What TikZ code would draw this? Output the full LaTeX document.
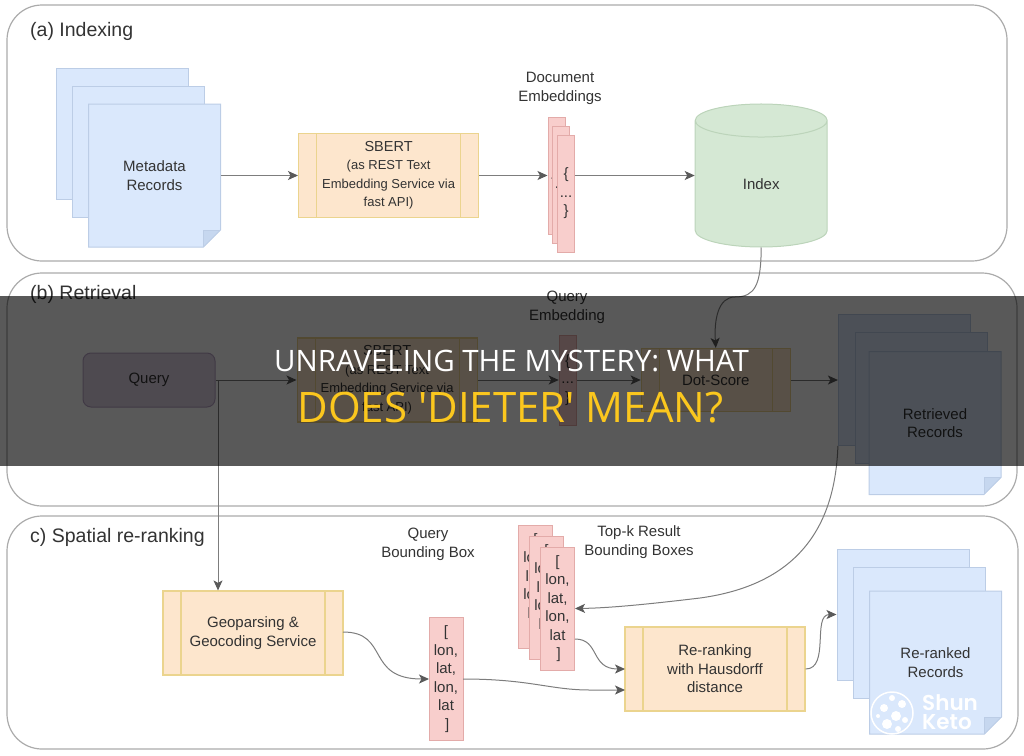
\documentclass[tikz,border=0pt]{standalone}
\usepackage{fontspec}
\setmainfont{Liberation Sans}
\newfontfamily\bandfont{Open Sans}
\newfontfamily\markfont{Poppins}[FontFace={sb}{n}{Font=* SemiBold}]
\usetikzlibrary{positioning,arrows.meta,shapes.geometric,shapes.misc}

\definecolor{panelgray}{HTML}{ABABAB}
\definecolor{linegray}{HTML}{7D7D7D}
\definecolor{tipgray}{HTML}{5A5A5A}
\definecolor{docfill}{HTML}{DAE8FC}
\definecolor{docdraw}{HTML}{BCCDE6}
\definecolor{docfold}{HTML}{C6D7EF}
\definecolor{procfill}{HTML}{FDE6CD}
\definecolor{procdraw}{HTML}{EBD48E}
\definecolor{embfill}{HTML}{F8CECC}
\definecolor{embdraw}{HTML}{E3ABA9}
\definecolor{dbfill}{HTML}{D5E8D4}
\definecolor{dbdraw}{HTML}{BCD4BA}
\definecolor{queryfill}{HTML}{E1D5E7}
\definecolor{querydraw}{HTML}{B9A6C6}
\definecolor{headyellow}{HTML}{FBC71E}

\begin{document}
\begin{tikzpicture}[
    x=1pt, y=-1pt,
    every node/.style={text=black!80, font=\fontsize{15}{18.5}\selectfont, align=center, inner sep=0pt},
    panelnode/.style={rectangle, draw=panelgray, line width=1.2pt, rounded corners=35pt},
    headnode/.style={anchor=west, font=\fontsize{19.5}{22}\selectfont},
    backnode/.style={rectangle, draw=docdraw, fill=docfill, line width=1pt, minimum width=132pt, minimum height=131pt},
    docnode/.style={chamfered rectangle, chamfered rectangle corners=south east, chamfered rectangle xsep=8.5pt,
        chamfered rectangle ysep=8.5pt, draw=docdraw, fill=docfill, line width=1pt, minimum width=132pt, minimum height=143pt,
        path picture={\fill[docfold] ([xshift=-17pt]path picture bounding box.south east)
            -- ([xshift=-17pt,yshift=17pt]path picture bounding box.south east)
            -- ([yshift=17pt]path picture bounding box.south east) -- cycle;
            \draw[docdraw, line width=1pt] ([xshift=-17pt]path picture bounding box.south east)
            -- ([xshift=-17pt,yshift=17pt]path picture bounding box.south east)
            -- ([yshift=17pt]path picture bounding box.south east);}},
    procnode/.style={rectangle, draw=procdraw, fill=procfill, line width=1.2pt, minimum width=#1, minimum height=84pt,
        path picture={\draw[procdraw, line width=1.2pt]
            ([xshift=18pt]path picture bounding box.north west) -- ([xshift=18pt]path picture bounding box.south west)
            ([xshift=-18pt]path picture bounding box.north east) -- ([xshift=-18pt]path picture bounding box.south east);}},
    procnode/.default=180pt,
    sbertnode/.style={procnode, font=\fontsize{13}{18.5}\selectfont},
    embnode/.style={rectangle, draw=embdraw, fill=embfill, line width=1pt, minimum width=17pt, minimum height=117pt},
    boxnode/.style={rectangle, draw=embdraw, fill=embfill, line width=1pt, minimum width=34pt, minimum height=123pt},
    flowline/.style={->, >={Stealth[length=10pt,width=9pt,inset=2.5pt,color=tipgray]}, draw=linegray, line width=1pt}
    ]
        \useasboundingbox (0,0) rectangle (1024,755);

        %Group panels
        \node[panelnode, minimum width=1000pt, minimum height=256pt] (panelA) at (507,133) {};
        \node[panelnode, minimum width=1010pt, minimum height=233pt] (panelB) at (512,389.5) {};
        \node[panelnode, minimum width=1011pt, minimum height=233pt] (panelC) at (512.5,632.5) {};
        \node[headnode] (headA) at (30,31) {(a) Indexing};
        \node[headnode] (headB) at (30,294) {(b) Retrieval};
        \node[headnode] (headC) at (30,537) {c) Spatial re-ranking};

        %Indexing row
        \node[backnode] (metaA) at (122,133.5) {};
        \node[backnode, xshift=16pt, yshift=-18pt] (metaB) at (metaA) {};
        \node[docnode] (metaC) at (154.5,175.5) {Metadata\\Records};
        \node[sbertnode]
            (sbertA) [right=77pt of metaC] {\fontsize{14.5}{18.5}\selectfont SBERT\\(as REST Text\\Embedding Service via\\fast API)};
        \node[embnode] (embA) at (556.5,175.5) {\{\\...\\\}};
        \node[embnode, xshift=4.5pt, yshift=-9pt] (embB) at (embA) {\{\\...\\\}};
        \node[embnode, xshift=9.5pt, yshift=-18pt] (embC) at (embA) {\{\\...\\\}};
        \node (embLabel) at (560,88.5) {Document\\Embeddings};
        \node[cylinder, shape border rotate=90, aspect=0.9, draw=dbdraw, fill=dbfill, line width=1pt,
            minimum width=132pt, minimum height=143pt, yshift=-8.5pt]
            (index) [right=215.5pt of sbertA] {\raisebox{-4pt}{Index}};

        %Retrieval row
        \node[rectangle, rounded corners=8pt, draw=querydraw, fill=queryfill, line width=1pt,
            minimum width=132pt, minimum height=54pt] (query) at (149,380) {Query};
        \node[sbertnode]
            (sbertB) [right=81pt of query] {\fontsize{14.5}{18.5}\selectfont SBERT\\(as REST Text\\Embedding Service via\\fast API)};
        \node[embnode, minimum height=90pt]
            (embQ) [right=81pt of sbertB] {\{\\...\\\}};
        \node (embQLabel) at (567,307.5) {Query\\Embedding};
        \node[procnode=149pt, minimum height=63pt]
            (dot) [right=64pt of embQ] {Dot-Score};
        \node[backnode]
            (retrA) [right=47pt of dot] {};
        \node[backnode, xshift=17pt, yshift=-18pt] (retrB) at (retrA) {};
        \node[docnode] (retrC) at (935,423) {Retrieved\\Records};

        %Re-ranking row
        \node[procnode] (geo) at (253,633) {Geoparsing \&\\Geocoding Service};
        \node[boxnode] (boxQ) at (446,679) {[\\lon,\\lat,\\lon,\\lat\\\,]};
        \node (boxQLabel) at (428,544.5) {Query\\Bounding Box};
        \node[boxnode] (boxA) at (535.5,586.5) {[\\lon,\\lat,\\lon,\\lat\\\,]};
        \node[boxnode, xshift=11pt, yshift=-11pt] (boxB) at (boxA) {[\\lon,\\lat,\\lon,\\lat\\\,]};
        \node[boxnode, xshift=22pt, yshift=-22pt] (boxC) at (boxA) {[\\lon,\\lat,\\lon,\\lat\\\,]};
        \node (boxLabel) at (639,542) {Top-k Result\\Bounding Boxes};
        \node[procnode] (rerank) at (715,669) {Re-ranking\\with Hausdorff\\distance};
        \node[backnode] (rankA) at (903,614.5) {};
        \node[backnode, xshift=16.5pt, yshift=-18pt] (rankB) at (rankA) {};
        \node[docnode] (rankC) at (935.5,662.5) {Re-ranked\\Records};

        %Lines
        \draw[flowline] (metaC.east) -- (sbertA.west);
        \draw[flowline] (sbertA.east) -- (embA.west);
        \draw[flowline] (embC.east |- sbertA.east) -- (index.west |- sbertA.east);
        \draw[flowline] (query.east) -- (sbertB.west);
        \draw[flowline] (sbertB.east) -- (embQ.west);
        \draw[flowline] (embQ.east) -- (dot.west);
        \draw[flowline] (dot.east) -- (retrA.west);
        \coordinate (split) at (218,380);
        \draw[flowline] (split) -- (split |- geo.north);
        \draw[flowline] (index.south)
            .. controls (761,285) and (755,297) .. (735,297)
            .. controls (718,297) and (714,320) .. (dot.north);
        \draw[flowline] (retrA.south west)
            .. controls (835,530) and (795,585) .. (700,598)
            .. controls (650,604) and (610,608) .. (boxC.east);
        \coordinate (boxCout) at (575,639);
        \coordinate (rerankInA) at (625,669);
        \coordinate (rerankInB) at (625,690);
        \coordinate (boxQout) at (463,679);
        \coordinate (boxQin) at (429,679);
        \coordinate (geoOut) at (343,632);
        \draw[flowline] (boxCout) .. controls (600,639) and (590,669) .. (rerankInA);
        \draw[flowline] (boxQout) .. controls (530,679) and (550,690) .. (590,690) -- (rerankInB);
        \draw[flowline] (geoOut) .. controls (390,632) and (365,679) .. (boxQin);
        \draw[flowline] (rerank.east) .. controls (830,669) and (812,614.5) .. (rankA.west);

        %Banner over the figure
        \fill[black, opacity=.65] (0,296) rectangle (1024,466);
        \node[text=white, font=\bandfont\fontsize{29.5}{32}\selectfont] (bannerA) at (511.5,361) {UNRAVELING THE MYSTERY: WHAT};
        \node[text=headyellow, font=\bandfont\fontsize{42}{44}\selectfont] (bannerB) at (510.5,408) {DOES 'DIETER' MEAN?};

        %Site mark
        \node[text=white, anchor=west, font=\markfont\fontseries{sb}\fontsize{21.5}{21.5}\selectfont] (markA) at (922,703) {Shun};
        \node[text=white, anchor=west, font=\markfont\fontseries{sb}\fontsize{21.5}{21.5}\selectfont] (markB) at (922,722) {Keto};
        \draw[white, line width=1.5pt] (892,713) circle (21);
        \foreach \px/\py/\pr in {892/698/3, 902/704/4, 884/708/4, 896/716/5, 905/720/3, 887/724/5, 878/716/2, 898/729/3}
            \fill[white] (\px,\py) circle (\pr);
\end{tikzpicture}
\end{document}
